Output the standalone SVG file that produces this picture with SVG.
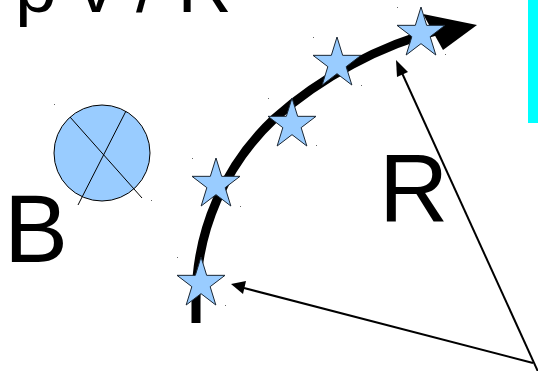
<svg xmlns="http://www.w3.org/2000/svg" width="538" height="371" viewBox="0 0 538 371">
<style>
.t{font-family:"Liberation Sans",Arial,sans-serif;fill:#000}
.star{fill:#99ccff;stroke:#1a2633;stroke-width:1}
.dot{fill:#666}
.thin{stroke:#000;stroke-width:2;fill:none}
</style>
<defs>
<polygon id="starShape" class="star" points="24,0 29.67,18.33 48,18.33 33.17,29.67 38.84,48 24,36.67 9.16,48 14.83,29.67 0,18.33 18.33,18.33"/>
</defs>
<rect width="538" height="371" fill="#fff"/>
<g id="cyan-bar"><rect x="528" y="-2" width="12" height="125" fill="#00ffff"/></g>
<g id="title"><text class="t" x="15" y="12" font-size="75" xml:space="preserve">p v / R</text></g>
<g id="label-B"><text class="t" x="4" y="262" font-size="96">B</text></g>
<g id="label-R"><text class="t" x="379" y="222" font-size="96">R</text></g>
<g id="field-B">
<circle cx="102" cy="153" r="48" fill="#99ccff" stroke="#000" stroke-width="1"/>
<line x1="70" y1="117" x2="142" y2="198" stroke="#000" stroke-width="1"/>
<line x1="126" y1="111" x2="78" y2="205" stroke="#000" stroke-width="1"/>
<rect class="dot" x="54" y="104" width="1" height="1"/><rect class="dot" x="151" y="200" width="1" height="1"/>
</g>
<g id="connectors">
<path d="M196,323 L196,300 C196,230 225,165 275,118 C320,78 380,45 440,30" fill="none" stroke="#000" stroke-width="9"/>
<polygon points="423,14 477,25 443,50" fill="#000"/>
<line class="thin" x1="540" y1="376" x2="402" y2="73"/>
<polygon points="396,60 408,72 397,77" fill="#000"/>
<line class="thin" x1="533" y1="363" x2="244" y2="288"/>
<polygon points="231,284 246,281 243,294" fill="#000"/>
</g>
<g id="star1"><use href="#starShape" x="177" y="257"/><rect class="dot" x="177" y="257" width="1" height="1"/><rect class="dot" x="225" y="305" width="1" height="1"/></g>
<g id="star2"><use href="#starShape" x="192" y="158"/><rect class="dot" x="192" y="158" width="1" height="1"/><rect class="dot" x="240" y="206" width="1" height="1"/></g>
<g id="star3"><use href="#starShape" x="268" y="98"/><rect class="dot" x="268" y="98" width="1" height="1"/><rect class="dot" x="316" y="145" width="1" height="1"/></g>
<g id="star4"><use href="#starShape" x="313" y="37"/><rect class="dot" x="313" y="37" width="1" height="1"/><rect class="dot" x="361" y="85" width="1" height="1"/></g>
<g id="star5"><use href="#starShape" x="397" y="7"/><rect class="dot" x="397" y="7" width="1" height="1"/><rect class="dot" x="445" y="54" width="1" height="1"/></g>
</svg>
